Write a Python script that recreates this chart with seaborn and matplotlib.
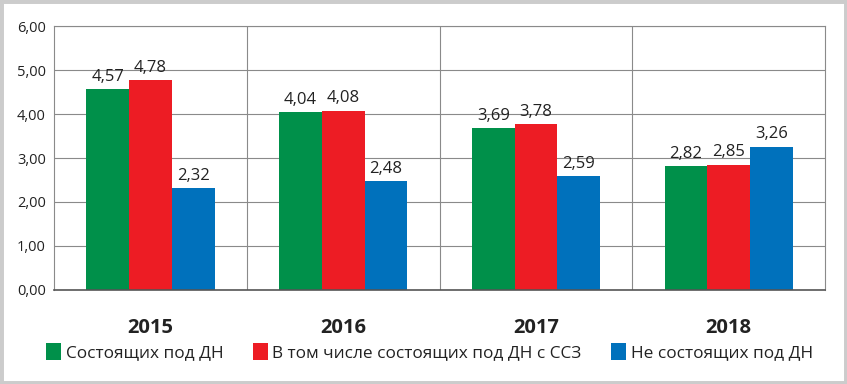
import matplotlib
matplotlib.use("Agg")
import matplotlib.pyplot as plt
from matplotlib.patches import Rectangle
from matplotlib.ticker import FuncFormatter, MultipleLocator
import pandas as pd
import seaborn as sns

years = ["2015", "2016", "2017", "2018"]
series = ["Состоящих под ДН",
          "В том числе состоящих под ДН с ССЗ",
          "Не состоящих под ДН"]
green_vals = [4.57, 4.04, 3.69, 2.82]
red_vals = [4.78, 4.08, 3.78, 2.85]
blue_vals = [2.32, 2.48, 2.59, 3.26]
colors = ["#00904A", "#ED1C24", "#0071BC"]

df = pd.DataFrame({
    "year": years * 3,
    "group": [series[0]] * 4 + [series[1]] * 4 + [series[2]] * 4,
    "value": green_vals + red_vals + blue_vals,
})

sns.set_theme(style="white")
plt.rcParams["font.family"] = ["Open Sans", "DejaVu Sans"]

fig = plt.figure(figsize=(8.47, 3.84), dpi=100)
ax = fig.add_axes([0.064, 0.245, 0.91, 0.687])

sns.barplot(data=df, x="year", y="value", hue="group", palette=colors,
            width=0.665, saturation=1, linewidth=0, edgecolor="none",
            ax=ax, legend=True)

ax.set_ylim(0, 6)
ax.set_xlim(-0.5, 3.5)
ax.yaxis.set_major_locator(MultipleLocator(1))
ax.yaxis.set_major_formatter(FuncFormatter(lambda v, p: f"{v:.2f}".replace(".", ",")))
ax.grid(axis="y", color="#8a8a8a", linewidth=0.8)
ax.set_axisbelow(True)
for xb in [0.5, 1.5, 2.5]:
    ax.axvline(xb, color="#8a8a8a", linewidth=0.8, zorder=0)

for s in ["left", "right", "top"]:
    ax.spines[s].set_color("#8a8a8a")
    ax.spines[s].set_linewidth(0.8)
ax.spines["bottom"].set_color("#555555")
ax.spines["bottom"].set_linewidth(1.2)

ax.set_xlabel("")
ax.set_ylabel("")
ax.tick_params(axis="y", labelsize=10.5, length=0, pad=6, colors="#222222")
ax.tick_params(axis="x", labelsize=14.5, length=0, pad=20, colors="#222222")
for t in ax.get_xticklabels():
    t.set_fontweight("bold")

for c in ax.containers:
    ax.bar_label(c, labels=[f"{v:.2f}".replace(".", ",") for v in c.datavalues],
                 padding=3, fontsize=12, color="#222222")

handles, labels = ax.get_legend_handles_labels()
ax.get_legend().remove()
fig.legend(handles, labels, loc="center", bbox_to_anchor=(0.507, 0.083), ncol=3,
           frameon=False, fontsize=12.4, handlelength=0.9, handleheight=1.1,
           handletextpad=0.25, columnspacing=1.7, labelcolor="#222222")

fig.patches.append(Rectangle((0, 0), 1, 1, transform=fig.transFigure, fill=False,
                             edgecolor="#cccccc", linewidth=5))

fig.savefig("out.png", dpi=100)
